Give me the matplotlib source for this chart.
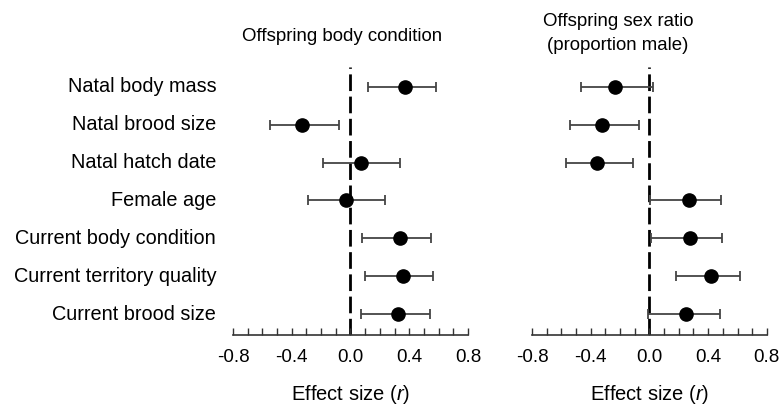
import matplotlib
matplotlib.use("Agg")
import matplotlib.pyplot as plt
import numpy as np
from matplotlib.ticker import MultipleLocator

plt.rcParams['font.family'] = ['Liberation Sans', 'DejaVu Sans']
plt.rcParams['mathtext.fontset'] = 'custom'
plt.rcParams['mathtext.rm'] = 'Liberation Sans'
plt.rcParams['mathtext.it'] = 'Liberation Sans:italic'

predictors = ['Natal body mass', 'Natal brood size', 'Natal hatch date',
              'Female age', 'Current body condition',
              'Current territory quality', 'Current brood size']

# offspring body condition: effect size and 95% CI
body_r = [0.37, -0.33, 0.075, -0.03, 0.335, 0.355, 0.327]
body_lo = [0.12, -0.545, -0.186, -0.288, 0.08, 0.10, 0.07]
body_hi = [0.58, -0.075, 0.334, 0.234, 0.55, 0.563, 0.542]

# offspring sex ratio
sex_r = [-0.234, -0.323, -0.36, 0.269, 0.275, 0.421, 0.252]
sex_lo = [-0.467, -0.54, -0.569, 0.002, 0.014, 0.18, -0.009]
sex_hi = [0.023, -0.073, -0.111, 0.49, 0.497, 0.614, 0.48]

xticks = [-0.8, -0.4, 0.0, 0.4, 0.8]


def forest(ax, r, lo, hi):
    r = np.array(r)
    y = np.arange(len(r))
    err = [r - np.array(lo), np.array(hi) - r]
    ax.axvline(0, color='black', lw=2.0, ls=(0, (6, 2)), zorder=1)
    ax.errorbar(r, y, xerr=err, fmt='o', color='black', ms=9.5,
                ecolor='#444444', elinewidth=1.3, capsize=3.8, capthick=1.3,
                zorder=3)
    ax.set_xlim(-0.8, 0.8)
    ax.set_ylim(6.55, -0.53)
    ax.set_xticks(xticks)
    ax.set_xticklabels(['%.1f' % t for t in xticks])
    ax.xaxis.set_minor_locator(MultipleLocator(0.1))
    ax.tick_params(axis='x', which='both', direction='in', length=5,
                   width=1.0, color='#333333', labelsize=13.5, pad=10)
    for s in ['top', 'right', 'left']:
        ax.spines[s].set_visible(False)
    ax.spines['bottom'].set_color('#333333')
    ax.spines['bottom'].set_linewidth(1.2)
    ax.set_yticks([])
    ax.set_xlabel('Effect size ($\\it{r}$)', fontsize=14.5, labelpad=12)


fig = plt.figure(figsize=(7.83, 4.07), dpi=100)
ax1 = fig.add_axes([0.2976, 0.177, 0.300, 0.659])
ax2 = fig.add_axes([0.6794, 0.177, 0.300, 0.659])

forest(ax1, body_r, body_lo, body_hi)
forest(ax2, sex_r, sex_lo, sex_hi)

for i, name in enumerate(predictors):
    ax1.text(-0.915, i, name, ha='right', va='center', fontsize=14.3,
             transform=ax1.transData, clip_on=False)

fig.text(341.7 / 783, 1 - 36.7 / 407, 'Offspring body condition',
         ha='center', va='center', fontsize=13.4)
fig.text(618 / 783, 1 - 33.5 / 407, 'Offspring sex ratio\n(proportion male)',
         ha='center', va='center', fontsize=13.4, linespacing=1.55)

fig.savefig('out.png', dpi=100)
